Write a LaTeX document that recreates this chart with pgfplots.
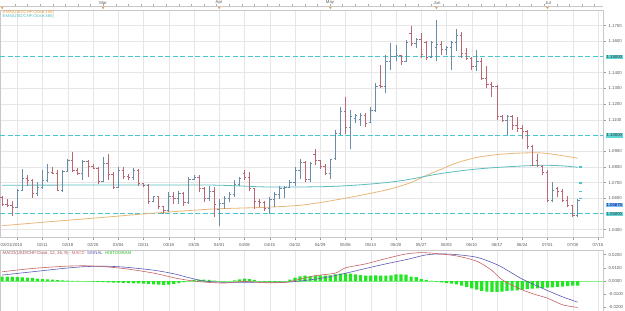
\documentclass[border=0pt]{standalone}
\usepackage{fontspec}
\setmainfont{Liberation Sans}
\usepackage{pgfplots}
\pgfplotsset{compat=1.18}
\usepackage{pgfplotstable}

\definecolor{upc}{HTML}{6A8CA6}
\definecolor{dnc}{HTML}{B86874}
\definecolor{emaA}{HTML}{E8B87A}
\definecolor{emaB}{HTML}{5CBDBD}
\definecolor{myLevel}{RGB}{70,200,205}
\definecolor{myBoxFill}{RGB}{95,215,215}
\definecolor{myBoxBlue}{RGB}{120,190,240}
\definecolor{gridc}{HTML}{E6E6E6}
\definecolor{macdc}{HTML}{C86464}
\definecolor{sigc}{HTML}{5A5AB4}
\definecolor{histc}{HTML}{22E622}
\definecolor{lab}{HTML}{5A5A5A}
\definecolor{framec}{HTML}{C8C8C8}
\definecolor{monc}{HTML}{E8A040}

\newcommand\tf{\fontsize{4.3}{4.8}\selectfont}

\pgfdeclareplotmark{otick}{\pgfpathmoveto{\pgfqpoint{-\pgfplotmarksize}{0pt}}\pgfpathlineto{\pgfqpoint{0pt}{0pt}}\pgfusepathqstroke}
\pgfdeclareplotmark{ctick}{\pgfpathmoveto{\pgfqpoint{0pt}{0pt}}\pgfpathlineto{\pgfqpoint{\pgfplotmarksize}{0pt}}\pgfusepathqstroke}

\pgfplotstableread{
i o h l c
3 1.0540 1.0660 1.0535 1.0650
4 1.0650 1.0788 1.0645 1.0725
7 1.0628 1.0703 1.0617 1.0666
8 1.0666 1.0777 1.0660 1.0713
9 1.0713 1.0820 1.0703 1.0766
12 1.0649 1.0780 1.0640 1.0770
13 1.0770 1.0852 1.0765 1.0840
16 1.0760 1.0841 1.0713 1.0835
20 1.0710 1.0863 1.0705 1.0820
23 1.0670 1.0799 1.0665 1.0780
26 1.0730 1.0795 1.0713 1.0780
30 1.0580 1.0617 1.0574 1.0610
33 1.0520 1.0638 1.0515 1.0610
35 1.0600 1.0649 1.0564 1.0630
37 1.0570 1.0735 1.0564 1.0720
38 1.0720 1.0745 1.0715 1.0735
41 1.0600 1.0681 1.0585 1.0640
43 1.0530 1.0596 1.0425 1.0565
44 1.0565 1.0617 1.0532 1.0600
45 1.0600 1.0638 1.0574 1.0625
46 1.0625 1.0713 1.0606 1.0690
47 1.0690 1.0735 1.0681 1.0725
53 1.0535 1.0606 1.0500 1.0590
54 1.0590 1.0638 1.0542 1.0625
55 1.0625 1.0681 1.0595 1.0660
56 1.0660 1.0681 1.0600 1.0670
57 1.0670 1.0713 1.0665 1.0700
58 1.0700 1.0799 1.0681 1.0780
59 1.0780 1.0852 1.0720 1.0830
61 1.0720 1.0830 1.0703 1.0820
65 1.0760 1.0852 1.0724 1.0845
66 1.0852 1.1034 1.0845 1.1010
67 1.1010 1.1184 1.1000 1.1150
69 1.1050 1.1162 1.0916 1.1120
70 1.1110 1.1135 1.1077 1.1125
71 1.1100 1.1140 1.1060 1.1130
73 1.1080 1.1184 1.1077 1.1160
74 1.1160 1.1333 1.1150 1.1310
76 1.1310 1.1514 1.1269 1.1470
77 1.1470 1.1590 1.1418 1.1500
78 1.1500 1.1578 1.1472 1.1510
80 1.1470 1.1611 1.1465 1.1590
82 1.1589 1.1621 1.1557 1.1610
85 1.1495 1.1600 1.1493 1.1590
86 1.1560 1.1735 1.1472 1.1580
88 1.1545 1.1568 1.1514 1.1560
89 1.1560 1.1600 1.1418 1.1590
90 1.1590 1.1675 1.1535 1.1640
94 1.1440 1.1546 1.1408 1.1470
100 1.1095 1.1130 1.1002 1.1119
109 1.0585 1.0703 1.0574 1.0649
114 1.0489 1.0596 1.0478 1.05875
}\up

\pgfplotstableread{
i o h l c
0 1.0605 1.0617 1.0553 1.0562
1 1.0562 1.0596 1.0542 1.0553
2 1.0553 1.0585 1.0489 1.0540
5 1.0725 1.0745 1.0681 1.0713
6 1.0713 1.0724 1.0602 1.0628
10 1.0766 1.0799 1.0752 1.0760
11 1.0760 1.0777 1.0645 1.0649
14 1.0840 1.0895 1.0767 1.0780
15 1.0780 1.0790 1.0745 1.0760
17 1.0835 1.0841 1.0735 1.0800
18 1.0800 1.0820 1.0785 1.0790
19 1.0790 1.0799 1.0692 1.0710
21 1.0820 1.0884 1.0713 1.0750
22 1.0750 1.0767 1.0660 1.0670
24 1.0780 1.0799 1.0724 1.0740
25 1.0740 1.0756 1.0713 1.0730
27 1.0780 1.0788 1.0681 1.0695
28 1.0695 1.0700 1.0670 1.0680
29 1.0680 1.0692 1.0564 1.0580
31 1.0610 1.0617 1.0532 1.0545
32 1.0545 1.0553 1.0500 1.0520
34 1.0610 1.0638 1.0564 1.0600
36 1.0630 1.0638 1.0553 1.0570
39 1.0735 1.0745 1.0638 1.0660
40 1.0660 1.0670 1.0574 1.0600
42 1.0640 1.0670 1.0478 1.0560
48 1.0760 1.0777 1.0713 1.0730
49 1.0730 1.0770 1.0649 1.0660
50 1.0660 1.0665 1.0532 1.0580
51 1.0580 1.0595 1.0542 1.0575
52 1.0575 1.0580 1.0521 1.0535
60 1.0830 1.0835 1.0703 1.0720
62 1.0880 1.0916 1.0809 1.0840
63 1.0840 1.0841 1.0788 1.0800
64 1.0800 1.0820 1.0745 1.0760
68 1.1150 1.1247 1.1012 1.1050
72 1.1130 1.1140 1.1055 1.1075
75 1.1320 1.1450 1.1301 1.1310
79 1.1510 1.1514 1.1450 1.1470
81 1.1650 1.1696 1.1568 1.1589
83 1.1611 1.1653 1.1493 1.1514
84 1.1590 1.1600 1.1482 1.1495
87 1.1580 1.1600 1.1514 1.1545
91 1.1640 1.1660 1.1493 1.1525
92 1.1525 1.1557 1.1482 1.1493
93 1.1493 1.1500 1.1418 1.1440
95 1.1470 1.1493 1.1354 1.1360
96 1.1360 1.1440 1.1301 1.1322
97 1.1322 1.1343 1.1247 1.1311
98 1.1311 1.1322 1.1098 1.1119
99 1.1119 1.1130 1.1087 1.1095
101 1.1119 1.1130 1.1034 1.1066
102 1.1066 1.1119 1.1023 1.1044
103 1.1044 1.1066 1.0980 1.1023
104 1.1023 1.1034 1.0916 1.0927
105 1.0927 1.0938 1.0805 1.0809
106 1.0840 1.0884 1.0800 1.0810
107 1.0800 1.0812 1.0745 1.0767
108 1.0767 1.0777 1.0574 1.0585
110 1.0660 1.0670 1.0606 1.0640
111 1.0640 1.0660 1.0574 1.0585
112 1.0585 1.0617 1.0542 1.0553
113 1.0553 1.0560 1.0478 1.0489
}\down

\pgfplotstableread{
i h
0 0.0033
1 0.0033
2 0.0032
3 0.0030
4 0.0027
5 0.0025
6 0.0023
7 0.0018
8 0.0015
9 0.0013
10 0.0010
11 0.0007
12 0.0005
13 0.0003
14 0.0002
15 0.0001
16 0.0000
17 -0.0003
18 -0.0005
19 -0.0006
20 -0.0008
21 -0.0010
22 -0.0012
23 -0.0013
24 -0.0014
25 -0.0015
26 -0.0017
27 -0.0018
28 -0.0020
29 -0.0022
30 -0.0025
31 -0.0028
32 -0.0030
33 -0.0028
34 -0.0022
35 -0.0015
36 -0.0008
37 0.0002
38 0.0008
39 0.0010
40 0.0010
41 0.0008
42 0.0003
43 -0.0002
44 -0.0003
45 0.0000
46 0.0005
47 0.0012
48 0.0018
49 0.0015
50 0.0008
51 -0.0003
52 -0.0006
53 -0.0008
54 -0.0007
55 -0.0005
56 -0.0002
57 0.0010
58 0.0025
59 0.0035
60 0.0040
61 0.0038
62 0.0040
63 0.0042
64 0.0040
65 0.0043
66 0.0050
67 0.0057
68 0.0058
69 0.0056
70 0.0050
71 0.0045
72 0.0040
73 0.0040
74 0.0042
75 0.0040
76 0.0040
77 0.0043
78 0.0050
79 0.0050
80 0.0048
81 0.0033
82 0.0030
83 0.0015
84 0.0008
85 0.0002
86 -0.0005
87 -0.0010
88 -0.0015
89 -0.0020
90 -0.0025
91 -0.0035
92 -0.0045
93 -0.0055
94 -0.0065
95 -0.0075
96 -0.0080
97 -0.0082
98 -0.0082
99 -0.0080
100 -0.0075
101 -0.0072
102 -0.0070
103 -0.0066
104 -0.0062
105 -0.0058
106 -0.0055
107 -0.0052
108 -0.0050
109 -0.0048
110 -0.0045
111 -0.0042
112 -0.0038
113 -0.0035
114 -0.0035
}\hist

\pgfplotstableread{
i m
0 0.0070
6 0.0095
13 0.0113
18 0.0114
24 0.0095
30 0.0060
34 0.0025
37 0.0005
40 -0.0008
44 -0.0015
48 -0.0003
52 -0.0013
56 -0.0010
58 0.0005
62 0.0040
66 0.0060
68 0.0100
72 0.0130
76 0.0170
80 0.0205
83 0.0215
86 0.0208
90 0.0190
94 0.0150
97 0.0080
99 0.0010
102 -0.0050
105 -0.0095
108 -0.0130
111 -0.0180
114 -0.0200
}\macdtab

\pgfplotstableread{
i s
0 0.0045
6 0.0070
12 0.0095
16 0.0108
20 0.0112
24 0.0106
30 0.0082
34 0.0055
37 0.0025
40 0.0000
44 -0.0010
48 -0.0010
52 -0.0008
56 -0.0009
59 0.0000
63 0.0020
67 0.0050
72 0.0095
76 0.0130
80 0.0162
84 0.0198
87 0.0205
90 0.0200
94 0.0180
97 0.0140
99 0.0105
103 0.0015
107 -0.0055
111 -0.0120
114 -0.0160
}\sigtab

\begin{document}
\begin{tikzpicture}
\path[use as bounding box, fill=white] (0pt,0pt) rectangle (625pt,311pt);

% ---------------- price panel ----------------
\begin{axis}[
  at={(0pt,74pt)}, anchor=south west,
  scale only axis, width=603pt, height=227pt,
  xmin=-0.42, xmax=119, ymin=1.0353, ymax=1.1799,
  clip=false,
  axis line style={draw=framec, line width=0.4pt},
  scaled y ticks=false, scaled x ticks=false,
  xtick={3,8,...,118},
  xticklabels={,02/11,02/18,02/25,03/04,03/11,03/18,03/25,04/01,04/08,04/15,04/22,04/29,05/06,05/13,05/20,05/27,06/03,06/10,06/17,06/24,07/01,07/08,07/15},
  minor x tick num=4,
  xtick pos=bottom, xtick align=outside,
  ytick={1.04,1.06,1.07,1.08,1.09,1.11,1.12,1.13,1.14,1.16,1.17},
  yticklabels={1.0400,1.0600,1.0700,1.0800,1.0900,1.1100,1.1200,1.1300,1.1400,1.1600,1.1700},
  minor ytick={1.036,1.038,...,1.179},
  ytick pos=right, ytick align=outside, yticklabel pos=right,
  major tick length=2.5pt, minor tick length=1.3pt,
  tick style={draw=lab!60, line width=0.3pt},
  xmajorgrids, ymajorgrids,
  major grid style={draw=gridc, line width=0.4pt},
  tick label style={font=\tf, text=lab},
  yticklabel style={xshift=-0.5pt},
]
% level lines
\addplot[color=myLevel, dash pattern=on 5pt off 2.5pt, line width=1.1pt] coordinates {(-0.42,1.15) (119,1.15)};
\addplot[color=myLevel, dash pattern=on 5pt off 2.5pt, line width=1.1pt] coordinates {(-0.42,1.10) (119,1.10)};
\addplot[color=myLevel, dash pattern=on 5pt off 2.5pt, line width=1.1pt] coordinates {(-0.42,1.05) (119,1.05)};

% EMAs
\addplot[draw=emaA, line width=0.8pt, smooth] coordinates {
(0,1.0425) (10,1.0452) (20,1.0478) (30,1.0505) (41,1.0530) (47,1.0537) (52,1.0542)
(59,1.0555) (65,1.0583) (72,1.0625) (77,1.0660) (81,1.0700) (84,1.0745) (87,1.0785)
(90,1.0825) (94,1.0860) (98,1.0878) (101,1.0885) (104,1.0889) (107,1.0888) (110,1.0876) (114,1.0855)};
\addplot[draw=emaB, line width=0.8pt, smooth] coordinates {
(0,1.0683) (20,1.0684) (41,1.0684) (52,1.0672) (60,1.0672) (66,1.0676) (72,1.0688)
(77,1.0703) (81,1.0722) (87,1.0758) (94,1.0786) (101,1.0802) (107,1.0810) (111,1.0806) (114,1.0797)};

% OHLC bars: up
\addplot[draw=none, mark=none, forget plot,
  error bars/.cd, y dir=plus, y explicit, error mark=none,
  error bar style={draw=upc, line width=0.9pt}]
  table[x=i, y=l, y error expr=\thisrow{h}-\thisrow{l}] {\up};
\addplot[only marks, mark=otick, mark size=1.8pt, mark options={draw=upc, line width=0.9pt}, forget plot] table[x=i,y=o]{\up};
\addplot[only marks, mark=ctick, mark size=1.8pt, mark options={draw=upc, line width=0.9pt}, forget plot] table[x=i,y=c]{\up};
% down
\addplot[draw=none, mark=none, forget plot,
  error bars/.cd, y dir=plus, y explicit, error mark=none,
  error bar style={draw=dnc, line width=0.9pt}]
  table[x=i, y=l, y error expr=\thisrow{h}-\thisrow{l}] {\down};
\addplot[only marks, mark=otick, mark size=1.8pt, mark options={draw=dnc, line width=0.9pt}, forget plot] table[x=i,y=o]{\down};
\addplot[only marks, mark=ctick, mark size=1.8pt, mark options={draw=dnc, line width=0.9pt}, forget plot] table[x=i,y=c]{\down};

% small level marks at right end
\addplot[only marks, mark=-, mark size=1.5pt, mark options={draw=myLevel, line width=1.1pt}] coordinates {(114.6,1.0799) (114.6,1.0697) (114.6,1.0640) (114.6,1.0596)};

% month markers
\addplot[only marks, mark=triangle*, mark size=1.6pt, mark options={rotate=180, fill=monc, draw=monc}] coordinates {(0,1.1817) (20,1.1817) (43,1.1817) (65,1.1817) (86,1.1817) (108,1.1817)};

% right-side value boxes
\node[anchor=west, fill=myBoxFill, font=\tf, text=black!80, inner sep=0.8pt] at (axis cs:119.5,1.15) {1.15000};
\node[anchor=west, fill=myBoxFill, font=\tf, text=black!80, inner sep=0.8pt] at (axis cs:119.5,1.10) {1.10000};
\node[anchor=west, fill=myBoxBlue, font=\tf, text=blue!50!black, inner sep=0.8pt] at (axis cs:119.5,1.0556) {1.05875};
\node[anchor=west, fill=myBoxFill, font=\tf, text=black!80, inner sep=0.8pt] at (axis cs:119.5,1.05) {1.05000};
\end{axis}

% top month strip
\draw[framec, line width=0.4pt] (0pt,305pt) -- (603pt,305pt);
\foreach \xx in {15,27.6,...,600} \draw[lab!50, line width=0.3pt] (\xx pt,305pt) -- (\xx pt,306.6pt);
\node[font=\tf, text=lab] at (103pt,308.4pt) {Mar};
\node[font=\tf, text=lab] at (219pt,308.4pt) {Apr};
\node[font=\tf, text=lab] at (330pt,308.4pt) {May};
\node[font=\tf, text=lab] at (437pt,308.4pt) {Jun};
\node[font=\tf, text=lab] at (548pt,308.4pt) {Jul};

% legends
\node[anchor=west, font=\tf, text=monc, inner sep=0pt] at (2.5pt,299pt) {EMA(USD/CHF.Close,150)};
\node[anchor=west, font=\tf, text=emaB, inner sep=0pt] at (2.5pt,294.3pt) {EMA(USD/CHF.Close,365)};
\node[anchor=west, font=\tf, text=lab, inner sep=0pt] at (0.5pt,66.5pt) {02/01/2010};

% ---------------- MACD panel ----------------
\begin{axis}[
  at={(0pt,0pt)}, anchor=south west,
  scale only axis, width=603pt, height=61pt,
  xmin=-0.42, xmax=119, ymin=-0.0227, ymax=0.0235,
  axis line style={draw=framec, line width=0.4pt},
  scaled y ticks=false, scaled x ticks=false,
  xtick={3,8,...,118}, xticklabels={}, xtick style={draw=none},
  xmajorgrids, major grid style={draw=gridc, line width=0.4pt},
  ytick={-0.02,-0.01,0,0.01,0.02},
  yticklabels={-0.0200,-0.0100,0.0000,0.0100,0.0200},
  minor ytick={-0.0225,-0.02,...,0.0235},
  ytick pos=right, ytick align=outside, yticklabel pos=right,
  major tick length=2.5pt, minor tick length=1.3pt,
  ytick style={draw=lab!60, line width=0.3pt},
  tick label style={font=\tf, text=lab},
  yticklabel style={xshift=-0.5pt},
]
\addplot[draw=histc!55, line width=0.5pt] coordinates {(-0.42,0) (119,0)};
\addplot[ybar, bar width=3.2pt, bar shift=0pt, fill=histc, draw=none] table[x=i,y=h]{\hist};
\addplot[draw=sigc, line width=0.6pt, smooth] table[x=i,y=s]{\sigtab};
\addplot[draw=macdc, line width=0.6pt, smooth] table[x=i,y=m]{\macdtab};
\end{axis}

\node[anchor=west, font=\tf, inner sep=0pt] at (2.5pt,57.5pt) {\textcolor{macdc!80!black}{MACD(USD/CHF.Close, 12, 26, 9) -}\ \textcolor{macdc}{MACD}\ \ \textcolor{sigc}{SIGNAL}\ \ \textcolor{histc!80!black}{HISTOGRAM}};
\end{tikzpicture}
\end{document}
